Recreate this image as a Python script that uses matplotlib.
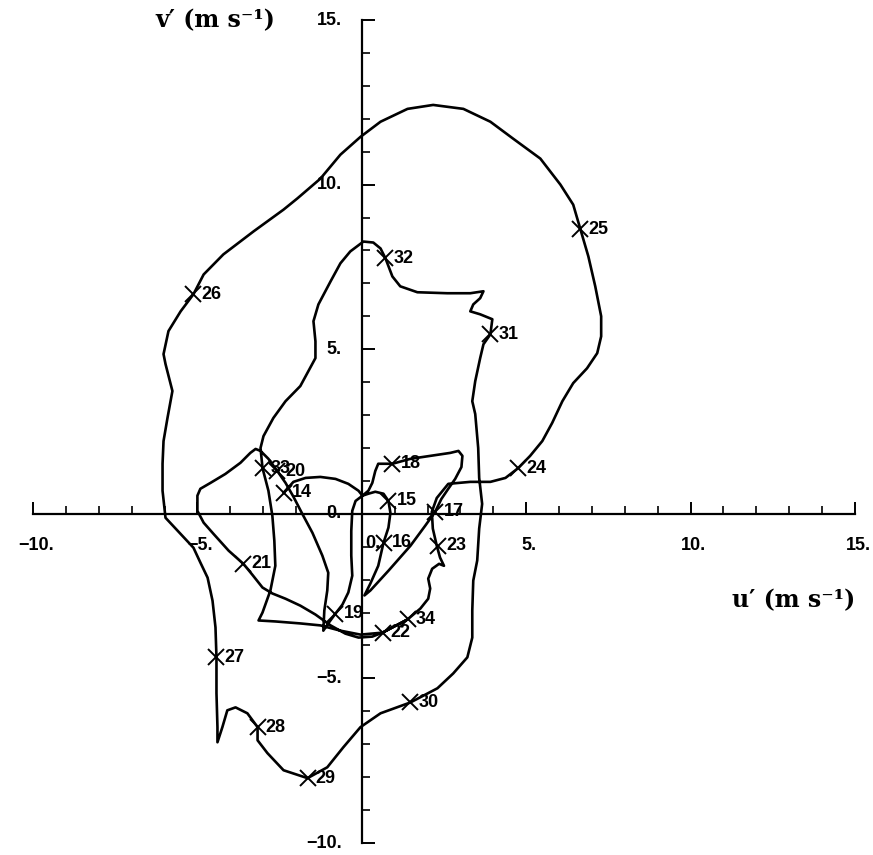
import matplotlib
matplotlib.use("Agg")
import matplotlib.pyplot as plt
import numpy as np

# hodograph trace (u', v') in m/s, in time order 14 -> 34
u = [-2.38, -2.08, -1.71, -1.26, -0.80, -0.41, -0.10, 0.02, 0.20, 0.41, 0.66, 0.81,
     0.87, 0.81, 0.66, 0.50, 0.26, 0.08,
     0.26, 0.81, 1.48, 1.93, 2.23, 2.42, 2.63, 2.84, 3.03, 3.06, 2.94, 2.69, 2.08, 1.48, 0.93,
     0.50, 0.41, 0.32, 0.20, 0.02, -0.19, -0.29, -0.32, -0.32, -0.29, -0.41, -0.59, -0.80,
     -1.02, -1.17, -1.14, -1.05, -1.02, -1.20, -1.50, -1.81, -2.08, -2.32, -2.57,
     -2.84, -3.08, -3.23, -3.39, -3.69, -4.15, -4.60, -4.91, -5.00, -5.00, -4.81, -4.51, -4.05, -3.60,
     -3.33, -3.02, -2.72, -2.32, -1.87, -1.41, -0.95, -0.50, -0.10, 0.32, 0.63,
     1.39, 1.78, 2.02, 2.08, 2.02, 2.14, 2.35, 2.50, 2.38, 2.28, 2.16, 2.13,
     2.28, 2.63, 3.30, 3.91, 4.37, 4.76,
     5.12, 5.49, 5.79, 6.10, 6.43, 6.85, 7.16, 7.28, 7.28, 7.10, 6.89, 6.65,
     6.43, 6.04, 5.43, 4.61, 3.91, 3.09, 2.17, 1.39, 0.57, -0.04, -0.65, -1.26, -1.96, -2.38,
     -3.29, -4.21, -4.81, -5.12,
     -5.51, -5.88, -6.03, -5.97, -5.76, -5.91, -6.03, -6.06, -6.06, -5.97, -5.51, -5.12,
     -4.91, -4.69, -4.54, -4.45, -4.42,
     -4.42, -4.39, -4.39, -4.24, -4.09, -3.84, -3.48, -3.17,
     -3.17, -2.87, -2.38, -1.65,
     -1.05, -0.56, -0.04, 0.57, 1.48,
     2.30, 2.78, 3.21, 3.36, 3.36, 3.39, 3.51, 3.57, 3.66, 3.57, 3.54, 3.45, 3.36, 3.45, 3.60, 3.70, 3.91,
     3.97, 3.60, 3.30, 3.39, 3.60, 3.70, 3.30, 2.60, 1.69, 1.17, 0.93, 0.72,
     0.57, 0.35, 0.05, -0.35, -0.65, -0.95, -1.32, -1.47, -1.41, -1.41, -1.87, -2.32, -2.69, -2.99, -3.08, -3.02,
     -2.84, -2.72, -2.66, -2.63, -2.78, -3.02, -3.14, -2.63, -1.87, -1.26, -0.65, -0.04, 0.63, 1.39]
v = [0.64, 0.97, 1.09, 1.12, 1.06, 0.91, 0.70, 0.55, 0.61, 0.67, 0.61, 0.39,
     0.03, -0.42, -0.88, -1.58, -2.12, -2.48,
     -2.33, -1.73, -0.97, -0.36, 0.06, 0.45, 0.76, 1.06, 1.42, 1.76, 1.91, 1.85, 1.76, 1.67, 1.52,
     1.52, 1.30, 0.94, 0.70, 0.55, 0.39, 0.09, -0.52, -1.27, -1.88, -2.39, -2.76, -3.03,
     -3.33, -3.55, -2.94, -2.33, -1.79, -1.27, -0.58, 0.00, 0.52, 0.94, 1.30,
     1.67, 1.91, 1.97, 1.85, 1.55, 1.21, 0.94, 0.76, 0.55, 0.09, -0.27, -0.61, -1.12, -1.52,
     -1.85, -2.24, -2.42, -2.58, -2.79, -3.06, -3.39, -3.64, -3.76, -3.73, -3.61,
     -3.21, -2.88, -2.58, -2.27, -1.97, -1.67, -1.52, -1.58, -1.33, -0.97, -0.45, 0.06,
     0.48, 0.91, 0.97, 0.97, 1.09, 1.39,
     1.76, 2.21, 2.76, 3.42, 3.97, 4.42, 4.88, 5.39, 6.00, 6.91, 7.82, 8.64,
     9.39, 10.00, 10.79, 11.39, 11.91, 12.30, 12.42, 12.30, 11.91, 11.45, 10.91, 10.18, 9.58, 9.24,
     8.58, 7.88, 7.27, 6.67,
     6.15, 5.55, 4.85, 4.55, 3.73, 2.91, 2.21, 1.52, 0.70, -0.12, -0.61, -1.03,
     -1.48, -1.94, -2.64, -3.45, -4.36,
     -5.45, -6.48, -6.94, -6.48, -5.97, -5.88, -6.06, -6.48,
     -6.88, -7.27, -7.79, -8.03,
     -7.70, -7.09, -6.48, -6.06, -5.73,
     -5.30, -4.85, -4.36, -3.76, -2.94, -2.03, -1.42, -0.45, 0.30, 1.09, 2.00, 3.03, 3.42, 4.03, 4.73, 5.15, 5.45,
     5.91, 6.06, 6.15, 6.36, 6.55, 6.76, 6.70, 6.70, 6.73, 6.91, 7.21, 7.76,
     8.06, 8.24, 8.27, 7.97, 7.61, 7.06, 6.36, 5.85, 5.24, 4.73, 3.88, 3.42, 2.91, 2.36, 2.00, 1.39,
     0.70, -0.06, -0.82, -1.58, -2.33, -3.00, -3.24, -3.27, -3.33, -3.39, -3.55, -3.67, -3.61, -3.21]

# labelled times along the trace
mark_labels = ["14", "15", "16", "17", "18", "19", "20", "21", "22", "23", "24",
               "25", "26", "27", "28", "29", "30", "31", "32", "33", "34"]
mark_u = [-2.38, 0.81, 0.66, 2.24, 0.93, -0.80, -2.57, -3.60, 0.63, 2.33, 4.76,
          6.65, -5.12, -4.42, -3.17, -1.65, 1.48, 3.91, 0.72, -3.02, 1.39]
mark_v = [0.64, 0.39, -0.88, 0.06, 1.52, -3.03, 1.30, -1.52, -3.61, -0.97, 1.39,
          8.64, 6.67, -4.36, -6.48, -8.03, -5.73, 5.45, 7.76, 1.39, -3.21]

xtick_vals = [-10, -5, 5, 10, 15]
ytick_vals = [15, 10, 5, 0, -5, -10]

num_font = "Liberation Sans"
lab_font = "DejaVu Serif"

fig = plt.figure(figsize=(8.73, 8.55), dpi=100)
ax = fig.add_axes([33/873, 12/855, 822/873, 823/855])
ax.set_xlim(-10, 15)
ax.set_ylim(-10, 15)

for s in ["top", "right"]:
    ax.spines[s].set_visible(False)
ax.spines["left"].set_position(("data", 0))
ax.spines["bottom"].set_position(("data", 0))
ax.spines["left"].set_linewidth(1.6)
ax.spines["bottom"].set_linewidth(1.6)

ax.set_xticks(np.arange(-10, 16, 5))
ax.set_xticks(np.arange(-10, 16, 1), minor=True)
ax.set_yticks(np.arange(-10, 16, 5))
ax.set_yticks(np.arange(-10, 16, 1), minor=True)
ax.tick_params(which="major", direction="in", length=9, width=1.4, labelbottom=False, labelleft=False)
ax.tick_params(which="minor", direction="in", length=6, width=1.2)

for x in xtick_vals:
    ax.annotate(f"{x}.".replace("-", "\u2212"), (x, 0), xytext=(3, -32), textcoords="offset pixels",
                ha="center", va="center", fontsize=13, fontweight="bold", family=num_font)
ax.annotate("0.", (0, 0), xytext=(3, -30), textcoords="offset pixels",
            ha="left", va="center", fontsize=13, fontweight="bold", family=num_font)
for y in ytick_vals:
    ax.annotate(f"{y}.".replace("-", "\u2212"), (0, y), xytext=(-20, 0), textcoords="offset pixels",
                ha="right", va="center", fontsize=13, fontweight="bold", family=num_font)

ax.plot(u, v, color="black", lw=1.9, solid_joinstyle="round", solid_capstyle="round")
ax.plot(mark_u, mark_v, "x", color="black", ms=12, mew=1.4, linestyle="none")
for lab, mu, mv in zip(mark_labels, mark_u, mark_v):
    ax.annotate(lab, (mu, mv), xytext=(8, 0), textcoords="offset pixels",
                ha="left", va="center", fontsize=13, fontweight="bold", family=num_font)

fig.text(215/873, 1 - 20/855, "v\u2032 (m s\u207b\u00b9)", ha="center", va="center",
         fontsize=17, fontweight="bold", family=lab_font)
fig.text(794/873, 1 - 600/855, "u\u2032 (m s\u207b\u00b9)", ha="center", va="center",
         fontsize=17, fontweight="bold", family=lab_font)

fig.savefig("out.png", dpi=100)
